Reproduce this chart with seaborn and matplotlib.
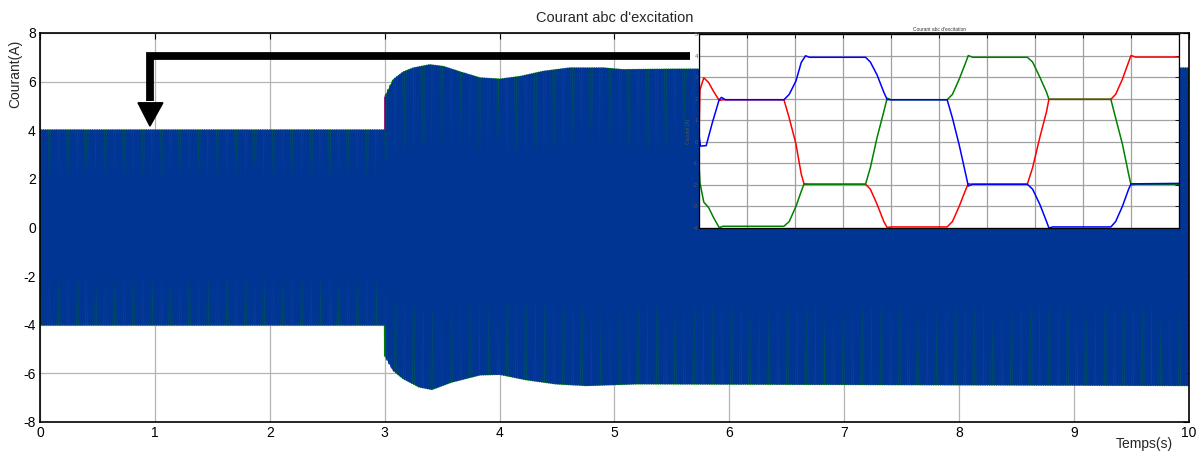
import numpy as np
import pandas as pd
import matplotlib
matplotlib.use("Agg")
import matplotlib.pyplot as plt
import seaborn as sns

# ── STYLE ─────────────────────────────────────────────────
sns.set_theme(style="white")
plt.rcParams["font.family"] = ["Liberation Sans", "DejaVu Sans"]
plt.rcParams["xtick.direction"] = "in"
plt.rcParams["ytick.direction"] = "in"
plt.rcParams["axes.unicode_minus"] = False

BLUE, GREEN, RED = "#0000ff", "#008000", "#ff0000"

# ── DATA ──────────────────────────────────────────────────
# envelope of the fast three-phase current (main plot)
env_top_t = [0.0, 2.999, 3.0, 3.075, 3.16, 3.25, 3.39, 3.51, 3.66, 3.83,
             4.0, 4.18, 4.38, 4.61, 4.9, 5.07, 5.48, 10.0]
env_top = [4.0, 4.0, 5.35, 6.07, 6.38, 6.55, 6.68, 6.61, 6.38, 6.14,
           6.09, 6.2, 6.41, 6.55, 6.55, 6.48, 6.5, 6.55]
env_bot_t = [0.0, 2.999, 3.0, 3.075, 3.16, 3.3, 3.41, 3.58, 3.83, 4.0,
             4.23, 4.49, 4.75, 5.19, 10.0]
env_bot = [-4.0, -4.0, -5.25, -5.87, -6.2, -6.55, -6.65, -6.35, -6.05, -6.03,
           -6.25, -6.42, -6.49, -6.42, -6.49]

# six-step levels of each phase (amplitude 4 A before the load step)
levels_a = [2, 4, 2, -2, -4, -2]     # blue
levels_b = [-4, -2, 2, 4, 2, -2]     # green
levels_c = [2, -2, -4, -2, 2, 4]     # red
step_frac = [0.0, 0.76, 0.82, 0.89, 0.96, 1.0]   # plateau then edge
edge_frac = [0.0, 0.0, 0.15, 0.47, 0.86, 1.0]
f_main = 51.3

# zoomed view (inset): breakpoints per phase
inset_xa = [0.0, 0.03, 0.15, 0.28, 0.42, 0.47, 0.55, 1.77, 1.88, 2.02, 2.13, 2.22, 2.3,
            3.47, 3.57, 3.71, 3.85, 3.92, 4.0, 5.17, 5.28, 5.42, 5.56, 5.61, 5.7,
            6.84, 6.95, 7.1, 7.24, 7.29, 7.37, 8.58, 8.68, 8.82, 8.95, 9.0, 9.1, 10.0]
inset_a = [0.33, -0.2, -0.18, 0.9, 1.95, 2.06, 1.95, 1.95, 2.2, 2.82, 3.68, 3.99, 3.92,
           3.92, 3.7, 3.1, 2.3, 1.96, 1.95, 1.95, 1.1, -0.14, -1.54, -2.05, -1.97,
           -1.97, -2.2, -2.9, -3.7, -4.0, -3.95, -3.95, -3.7, -3.0, -2.2, -1.95, -1.95, -1.93]
inset_xb = [0.0, 0.02, 0.1, 0.2, 0.3, 0.42, 0.5, 1.77, 1.88, 2.02, 2.13, 2.19, 2.3,
            3.47, 3.57, 3.71, 3.85, 3.92, 4.0, 5.17, 5.28, 5.42, 5.56, 5.61, 5.7,
            6.84, 6.95, 7.1, 7.24, 7.29, 7.37, 8.58, 8.68, 8.82, 8.95, 9.0, 9.1, 10.0]
inset_b = [-1.0, -1.9, -2.8, -3.05, -3.5, -3.98, -3.92, -3.92, -3.7, -3.0, -2.3, -1.95, -1.97,
           -1.97, -1.2, 0.2, 1.4, 2.02, 1.95, 1.95, 2.2, 2.9, 3.7, 4.0, 3.92,
           3.92, 3.7, 3.0, 2.3, 1.97, 1.97, 1.97, 1.1, -0.1, -1.5, -2.0, -1.97, -1.97]
inset_xc = [0.0, 0.02, 0.1, 0.2, 0.3, 0.42, 0.5, 1.77, 1.88, 2.02, 2.13, 2.19, 2.3,
            3.47, 3.57, 3.71, 3.85, 3.92, 4.0, 5.17, 5.28, 5.42, 5.56, 5.61, 5.7,
            6.84, 6.95, 7.1, 7.24, 7.29, 7.37, 8.58, 8.68, 8.82, 8.95, 9.0, 9.1, 10.0]
inset_c = [0.3, 2.4, 2.97, 2.75, 2.35, 1.92, 1.95, 1.95, 1.1, -0.1, -1.5, -1.97, -1.97,
           -1.97, -2.2, -2.9, -3.7, -3.98, -3.95, -3.95, -3.7, -3.0, -2.2, -1.95, -1.97,
           -1.97, -1.2, 0.2, 1.4, 1.97, 1.97, 1.97, 2.2, 2.9, 3.7, 4.0, 3.93, 3.93]

# ── BUILD THE FAST SIGNAL ─────────────────────────────────
t = np.arange(0.0, 10.0, 1 / 4000)
top = np.interp(t, env_top_t, env_top) / 4.0
bot = -np.interp(t, env_bot_t, env_bot) / 4.0


def six_step(levels):
    # one period of the trapezoid, from the level list and edge profile
    px, py = [0.0], [levels[0]]
    for k, lv in enumerate(levels):
        nxt = levels[(k + 1) % 6]
        for sf, ef in zip(step_frac[1:], edge_frac[1:]):
            px.append((k + sf) / 6)
            py.append(lv + (nxt - lv) * ef)
    wave = np.interp((f_main * t) % 1.0, px, py)
    return np.where(wave >= 0, wave * top, wave * bot)


ia, ib, ic = six_step(levels_a), six_step(levels_b), six_step(levels_c)

df_in = pd.concat([
    pd.DataFrame({"x": inset_xc, "y": inset_c, "phase": "c"}),
    pd.DataFrame({"x": inset_xb, "y": inset_b, "phase": "b"}),
    pd.DataFrame({"x": inset_xa, "y": inset_a, "phase": "a"}),
], ignore_index=True)

palette = {"a": BLUE, "b": GREEN, "c": RED}

# ── FIGURE ────────────────────────────────────────────────
fig = plt.figure(figsize=(12.01, 4.57), dpi=100)
fig.patch.set_facecolor("white")
ax = fig.add_axes([0.0333, 0.0766, 0.9567, 0.8512])

# red sits underneath, green fills, blue on top (blends to a dark navy)
sns.lineplot(x=t, y=ic, color=RED, estimator=None, sort=False,
             linewidth=0.3, ax=ax)
sns.lineplot(x=t, y=ib, color=GREEN, estimator=None, sort=False,
             linewidth=1.5, ax=ax)
sns.lineplot(x=t, y=ia, color=BLUE, estimator=None, sort=False,
             linewidth=1.15, alpha=0.58, ax=ax)

ax.set_xlim(0, 10)
ax.set_ylim(-8, 8)
ax.set_xticks(range(0, 11))
ax.set_yticks(range(-8, 9, 2))
ax.grid(True, color="#b4b4b4", linewidth=0.9)
ax.set_axisbelow(True)
ax.tick_params(labelsize=10, length=4, width=0.8, top=True, right=True,
               colors="black", pad=3)
for s in ax.spines.values():
    s.set_color("black")
    s.set_linewidth(1.2)
ax.set_title("Courant abc d'excitation", fontsize=10.5, pad=8)
ax.set_ylabel("Courant(A)", fontsize=10)
ax.yaxis.set_label_coords(-0.0155, 0.895)
ax.set_xlabel("")
fig.text(0.953, 0.014, "Temps(s)", fontsize=10, ha="center", va="bottom")

# black arrow pointing at the zoomed region
arrow_x = [5.66, 0.957, 0.957]
arrow_y = [7.07, 7.07, 5.2]
ax.plot(arrow_x, arrow_y, color="black", linewidth=5.6,
        solid_capstyle="butt", solid_joinstyle="miter", zorder=5)
ax.fill([0.853, 1.07, 0.957], [5.13, 5.13, 4.17], color="black", zorder=5)

# ── INSET ─────────────────────────────────────────────────
axin = fig.add_axes([0.582, 0.5011, 0.3997, 0.4245])
axin.set_facecolor("white")
sns.lineplot(data=df_in, x="x", y="y", hue="phase", palette=palette,
             estimator=None, sort=False, linewidth=1.1, legend=False, ax=axin)
axin.set_xlim(0, 10)
axin.set_ylim(-4, 5)
axin.set_xticks(range(0, 11))
axin.set_yticks(range(-4, 6))
axin.grid(True, color="#a0a0a0", linewidth=0.9)
axin.set_axisbelow(True)
axin.tick_params(labelsize=4, length=3, width=0.6, top=True, right=True,
                 labelbottom=False, colors="black", pad=1)
for lab in axin.get_yticklabels():
    lab.set_color("#555555")
for s in axin.spines.values():
    s.set_color("black")
    s.set_linewidth(0.9)
axin.set_title("Courant abc d'excitation", fontsize=3.5, pad=2, color="#333333")
axin.set_ylabel("Courant (A)", fontsize=3.5, labelpad=1, color="#555555")
axin.set_xlabel("")

fig.savefig("out.png", dpi=100, facecolor="white")
